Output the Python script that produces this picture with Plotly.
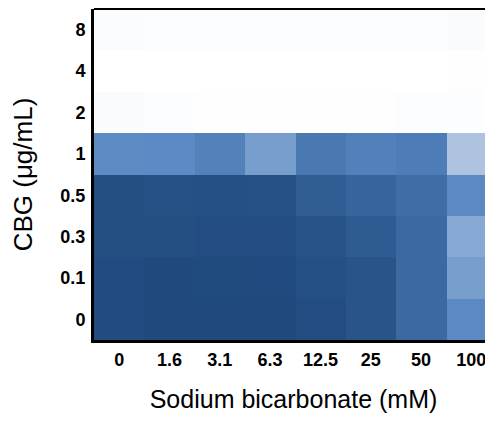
import plotly.graph_objects as go

x_labels = ["0", "1.6", "3.1", "6.3", "12.5", "25", "50", "100"]
y_labels = ["0", "0.1", "0.3", "0.5", "1", "2", "4", "8"]

row_0 = [0.97, 0.99, 0.99, 0.99, 0.96, 0.90, 0.72, 0.55]
row_01 = [0.97, 0.99, 0.985, 0.98, 0.94, 0.90, 0.72, 0.46]
row_03 = [0.95, 0.95, 0.96, 0.96, 0.91, 0.84, 0.72, 0.41]
row_05 = [0.95, 0.93, 0.94, 0.93, 0.82, 0.75, 0.70, 0.55]
row_1 = [0.54, 0.545, 0.59, 0.46, 0.64, 0.60, 0.62, 0.30]
row_2 = [0.02, 0.01, 0.005, 0.005, 0.005, 0.005, 0.01, 0.01]
row_4 = [0.0, 0.0, 0.0, 0.0, 0.0, 0.0, 0.0, 0.003]
row_8 = [0.015, 0.01, 0.01, 0.01, 0.01, 0.01, 0.012, 0.02]

z = [row_0, row_01, row_03, row_05, row_1, row_2, row_4, row_8]

colorscale = [
    [0.0, "#ffffff"],
    [0.3, "#adc3e0"],
    [0.55, "#5a89c3"],
    [0.75, "#36659d"],
    [1.0, "#1f497d"],
]

fig = go.Figure(go.Heatmap(
    z=z, x=x_labels, y=y_labels,
    colorscale=colorscale, zmin=0, zmax=1, showscale=False,
    xgap=0, ygap=0,
))

font_family = "Liberation Sans, Arial, sans-serif"

fig.update_layout(
    width=485, height=413,
    margin=dict(l=86, r=0, t=1, b=81),
    paper_bgcolor="white", plot_bgcolor="white",
    font=dict(family=font_family, color="black"),
    xaxis=dict(
        type="category", range=[-0.5, 7.43],
        showline=True, linecolor="black", linewidth=3,
        ticks="", showgrid=False, zeroline=False,
        tickfont=dict(size=18, weight="bold", color="black"),
        ticklabelstandoff=1,
        title=dict(text="Sodium bicarbonate (mM)", font=dict(size=25, color="black"), standoff=22),
    ),
    yaxis=dict(
        type="category", range=[-0.5, 7.5],
        showline=True, linecolor="black", linewidth=3,
        ticks="", showgrid=False, zeroline=False,
        tickfont=dict(size=18, weight="bold", color="black"),
        ticklabelstandoff=2,
        title=dict(text="CBG (μg/mL)", font=dict(size=26, color="black"), standoff=22),
    ),
    shapes=[dict(type="line", xref="paper", yref="paper", x0=0, x1=1, y0=1, y1=1,
                 line=dict(color="black", width=2))],
)

fig.write_html("out.html")
